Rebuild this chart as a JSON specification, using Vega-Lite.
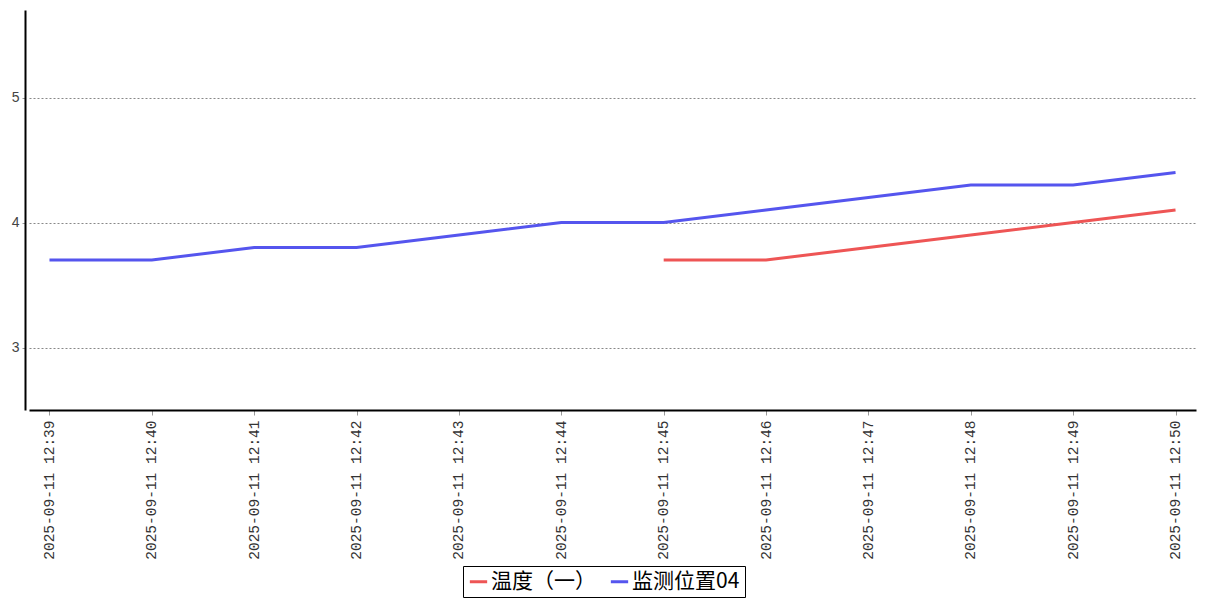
{
  "$schema": "https://vega.github.io/schema/vega-lite/v6.json",
  "autosize": {"type": "none"},
  "width": 1167,
  "height": 400,
  "padding": {"left": 29, "top": 10, "right": 11, "bottom": 190},
  "background": "white",
  "config": {"view": {"stroke": null}},
  "data": {"values": [
    {"t": "2025-09-11  12:39", "s": "监测位置04", "v": 3.7},
    {"t": "2025-09-11  12:40", "s": "监测位置04", "v": 3.7},
    {"t": "2025-09-11  12:41", "s": "监测位置04", "v": 3.8},
    {"t": "2025-09-11  12:42", "s": "监测位置04", "v": 3.8},
    {"t": "2025-09-11  12:43", "s": "监测位置04", "v": 3.9},
    {"t": "2025-09-11  12:44", "s": "监测位置04", "v": 4.0},
    {"t": "2025-09-11  12:45", "s": "监测位置04", "v": 4.0},
    {"t": "2025-09-11  12:46", "s": "监测位置04", "v": 4.1},
    {"t": "2025-09-11  12:47", "s": "监测位置04", "v": 4.2},
    {"t": "2025-09-11  12:48", "s": "监测位置04", "v": 4.3},
    {"t": "2025-09-11  12:49", "s": "监测位置04", "v": 4.3},
    {"t": "2025-09-11  12:50", "s": "监测位置04", "v": 4.4},
    {"t": "2025-09-11  12:45", "s": "温度（一）", "v": 3.7},
    {"t": "2025-09-11  12:46", "s": "温度（一）", "v": 3.7},
    {"t": "2025-09-11  12:47", "s": "温度（一）", "v": 3.8},
    {"t": "2025-09-11  12:48", "s": "温度（一）", "v": 3.9},
    {"t": "2025-09-11  12:49", "s": "温度（一）", "v": 4.0},
    {"t": "2025-09-11  12:50", "s": "温度（一）", "v": 4.1}
  ]},
  "mark": {"type": "line", "strokeWidth": 3},
  "encoding": {
    "x": {
      "field": "t", "type": "ordinal", "sort": null,
      "scale": {"type": "point", "padding": 0.2},
      "axis": {
        "title": null,
        "labelAngle": -90, "labelAlign": "right", "labelBaseline": "middle",
        "labelFont": "Liberation Mono", "labelFontSize": 14.5, "labelColor": "#333",
        "labelPadding": 5,
        "domainColor": "black", "domainWidth": 2,
        "tickColor": "#999", "tickSize": 5,
        "grid": false
      }
    },
    "y": {
      "field": "v", "type": "quantitative",
      "scale": {"domain": [2.5, 5.7], "nice": false, "zero": false},
      "axis": {
        "title": null, "values": [3, 4, 5], "offset": 4,
        "labelFont": "Liberation Sans", "labelFontSize": 14, "labelColor": "#444",
        "domainColor": "black", "domainWidth": 2,
        "tickColor": "#999", "tickSize": 3, "labelPadding": 3,
        "grid": true, "gridColor": "#888", "gridDash": [2, 2], "gridWidth": 1
      }
    },
    "color": {
      "field": "s", "type": "nominal",
      "scale": {"domain": ["温度（一）", "监测位置04"], "range": ["#ee5555", "#5555ee"]},
      "legend": {
        "title": null, "orient": "none", "direction": "horizontal",
        "legendX": 434, "legendY": 556,
        "symbolType": "stroke", "symbolStrokeWidth": 3, "symbolSize": 300,
        "labelFont": "Noto Sans CJK SC", "labelFontSize": 21, "labelColor": "black",
        "strokeColor": "black", "padding": 5, "columnPadding": 8, "symbolOffset": 0,
        "labelOffset": 2
      }
    }
  }
}
